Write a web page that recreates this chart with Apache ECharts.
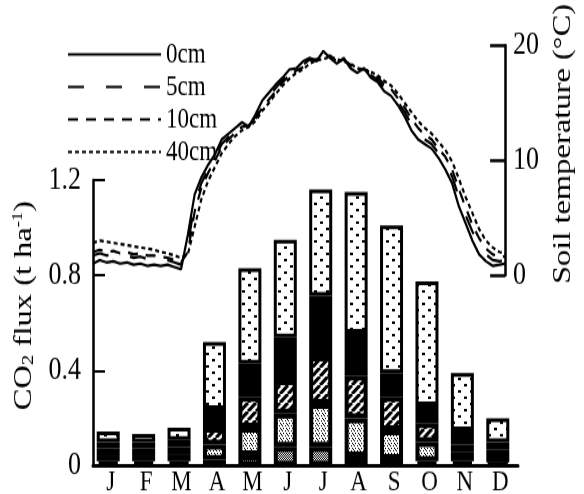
<!DOCTYPE html>
<html>
<head>
<meta charset="utf-8">
<script src="https://cdn.jsdelivr.net/npm/echarts@6/dist/echarts.min.js"></script>
<style>
  html, body { margin: 0; padding: 0; background: #fff; }
  #wrap { width: 584px; height: 494px; overflow: hidden; }
  /* the scanned figure is stretched vertically, so draw at 395px and stretch to 494px */
  #box { width: 584px; height: 395px; transform: scaleY(1.2506); transform-origin: 0 0; }
</style>
</head>
<body>
<div id="wrap"><div id="box"></div></div>
<script>
// month categories
var months = ['J', 'F', 'M', 'A', 'M', 'J', 'J', 'A', 'S', 'O', 'N', 'D'];

// CO2 flux components (t ha-1), bottom to top of each bar
var fluxLight = [0.02, 0.02, 0.02, 0.025, 0.045, 0.08, 0.08, 0.04, 0.03, 0.02, 0.02, 0.015];
var fluxDark  = [0.025, 0.025, 0.03, 0.065, 0.115, 0.14, 0.18, 0.16, 0.12, 0.08, 0.04, 0.025];
var fluxHatch = [0.03, 0.03, 0.03, 0.07, 0.13, 0.14, 0.20, 0.18, 0.14, 0.08, 0.03, 0.03];
var fluxBlack = [0.025, 0.025, 0.03, 0.08, 0.14, 0.18, 0.255, 0.18, 0.10, 0.075, 0.06, 0.03];
var fluxDots  = [0.045, 0.035, 0.05, 0.28, 0.40, 0.41, 0.445, 0.59, 0.62, 0.52, 0.24, 0.10];

// day of year for the soil temperature readings
var days = [0, 6, 12, 18, 24, 30, 36, 42, 48, 54, 60, 66, 72, 78, 84, 90, 96, 102, 108, 114,
  120, 126, 132, 138, 144, 150, 156, 162, 168, 174, 180, 186, 192, 198, 204, 210, 216, 222, 228, 234,
  240, 246, 252, 258, 264, 270, 276, 282, 288, 294, 300, 306, 312, 318, 324, 330, 336, 342, 348, 354,
  360, 365];

// soil temperature (°C) at each depth
var temp0 = [1.0, 1.3, 1.1, 1.2, 1.0, 1.1, 0.9, 1.0, 0.8, 0.9, 0.8, 0.9, 0.7, 0.5, 3.5, 7.0, 8.5, 9.6, 10.5, 11.8,
  12.3, 12.8, 13.3, 12.9, 14.0, 15.2, 15.9, 16.6, 17.2, 17.9, 18.0, 18.6, 18.9, 18.6, 19.5, 18.9, 18.4, 18.9, 18.0, 17.6,
  18.0, 17.2, 16.8, 16.0, 15.6, 14.8, 13.8, 12.6, 11.8, 11.4, 11.0, 10.2, 9.2, 8.0, 6.0, 4.5, 3.0, 1.8, 1.2, 0.8,
  0.9, 1.0];
var temp5 = [1.7, 1.9, 1.7, 1.8, 1.6, 1.7, 1.5, 1.6, 1.4, 1.5, 1.3, 1.3, 1.1, 0.9, 2.6, 6.2, 8.0, 9.2, 10.2, 11.4,
  12.0, 12.6, 13.1, 13.0, 13.8, 14.9, 15.6, 16.3, 17.0, 17.6, 17.9, 18.3, 18.8, 18.7, 19.2, 19.0, 18.5, 18.8, 18.2, 17.8,
  18.0, 17.4, 17.0, 16.3, 15.9, 15.1, 14.2, 13.1, 12.3, 11.8, 11.4, 10.6, 9.8, 8.6, 6.8, 5.2, 3.8, 2.6, 1.8, 1.3,
  1.2, 1.3];
var temp10 = [2.0, 2.2, 2.0, 2.1, 1.9, 2.0, 1.8, 1.9, 1.7, 1.7, 1.6, 1.5, 1.3, 1.1, 2.0, 5.5, 7.6, 8.9, 10.0, 11.1,
  11.8, 12.4, 12.9, 13.0, 13.6, 14.6, 15.3, 16.0, 16.8, 17.4, 17.8, 18.1, 18.7, 18.8, 19.0, 19.1, 18.6, 18.7, 18.3, 17.9,
  17.9, 17.6, 17.2, 16.6, 16.2, 15.4, 14.6, 13.6, 12.8, 12.2, 11.8, 11.0, 10.3, 9.2, 7.5, 5.9, 4.4, 3.2, 2.3, 1.8,
  1.6, 1.6];
var temp40 = [2.8, 3.0, 2.9, 2.8, 2.7, 2.6, 2.5, 2.4, 2.3, 2.2, 2.0, 1.9, 1.7, 1.5, 1.8, 4.2, 6.6, 8.2, 9.4, 10.6,
  11.4, 12.1, 12.6, 12.9, 13.4, 14.3, 15.0, 15.8, 16.5, 17.1, 17.6, 17.9, 18.4, 18.7, 18.8, 19.0, 18.8, 18.6, 18.4, 18.0,
  17.9, 17.7, 17.4, 16.9, 16.5, 15.8, 15.0, 14.2, 13.4, 12.8, 12.3, 11.6, 10.9, 9.9, 8.4, 6.8, 5.4, 4.0, 3.0, 2.4,
  2.0, 1.9];

var FONT = 'Liberation Serif';

// 画图案填充
function makePattern(w, h, draw) {
  var c = document.createElement('canvas');
  c.width = w;
  c.height = h;
  var ctx = c.getContext('2d');
  ctx.fillStyle = '#fff';
  ctx.fillRect(0, 0, w, h);
  ctx.fillStyle = '#000';
  ctx.strokeStyle = '#000';
  draw(ctx);
  return { image: c, repeat: 'repeat' };
}

var patLight = makePattern(2, 2, function (ctx) {
  ctx.fillRect(0, 0, 1, 1);
  ctx.fillRect(1, 1, 1, 1);
});
var patDark = makePattern(6, 4, function (ctx) {
  ctx.fillRect(0, 0, 1, 1);
  ctx.fillRect(3, 0, 1, 1);
  ctx.fillRect(1, 2, 1, 1);
  ctx.fillRect(4, 2, 1, 1);
  ctx.fillRect(5, 3, 1, 1);
});
var patHatch = makePattern(8, 7, function (ctx) {
  ctx.lineWidth = 3;
  [-8, 0, 8].forEach(function (x0) {
    ctx.beginPath();
    ctx.moveTo(x0, 7);
    ctx.lineTo(x0 + 8, 0);
    ctx.stroke();
  });
});
var patDots = makePattern(12, 10, function (ctx) {
  ctx.fillRect(2, 2, 3, 2);
  ctx.fillRect(8, 7, 3, 2);
});

function fluxSeries(name, data, fill, border) {
  return {
    name: name,
    type: 'bar',
    stack: 'flux',
    xAxisIndex: 0,
    yAxisIndex: 0,
    barWidth: 23,
    data: data,
    itemStyle: { color: fill, borderColor: '#000', borderWidth: border },
    silent: true
  };
}

function tempSeries(name, temps, dash) {
  return {
    name: name,
    type: 'line',
    xAxisIndex: 1,
    yAxisIndex: 1,
    symbol: 'none',
    showSymbol: false,
    data: days.map(function (d, i) { return [d, temps[i]]; }),
    lineStyle: { color: '#000', width: 2.2, type: dash },
    itemStyle: { color: '#000' },
    silent: true
  };
}

var chart = echarts.init(document.getElementById('box'));
chart.setOption({
  animation: false,
  backgroundColor: '#fff',
  legend: {
    data: ['0cm', '5cm', '10cm', '40cm'],
    orient: 'vertical',
    left: 62,
    top: 27,
    itemWidth: 93,
    itemHeight: 14,
    itemGap: 3,
    itemStyle: { opacity: 0 },
    textStyle: { fontFamily: FONT, fontSize: 23, color: '#000' },
    selectedMode: false
  },
  grid: [
    // 柱状图网格固定位置, 不要自动收缩
    { left: 93, width: 425, top: 144, height: 228.6, outerBoundsMode: 'none' },
    { left: 93, right: 66, top: 34.4, bottom: 175.1 }
  ],
  xAxis: [
    {
      type: 'category',
      gridIndex: 0,
      data: months,
      axisLine: { lineStyle: { color: '#000', width: 3 } },
      axisTick: { inside: true, length: 13, lineStyle: { color: '#000', width: 2 } },
      axisLabel: { color: '#000', fontFamily: FONT, fontSize: 23, margin: 2 },
      splitLine: { show: false }
    },
    { type: 'value', gridIndex: 1, min: 0, max: 365, show: false }
  ],
  yAxis: [
    {
      type: 'value',
      gridIndex: 0,
      min: 0,
      max: 1.2,
      interval: 0.4,
      name: 'CO{sub|2} flux (t ha{sup|-1})',
      nameLocation: 'middle',
      nameRotate: 90,
      nameGap: 56,
      nameTextStyle: {
        color: '#000', fontFamily: FONT, fontSize: 26, padding: [0, 0, 0, 28],
        rich: {
          sub: { fontFamily: FONT, fontSize: 17, color: '#000', verticalAlign: 'bottom', padding: [8, 0, 0, 0] },
          sup: { fontFamily: FONT, fontSize: 15, color: '#000', verticalAlign: 'top', padding: [0, 0, 9, 0] }
        }
      },
      axisLine: { show: true, onZero: false, lineStyle: { color: '#000', width: 2.5 } },
      axisTick: { show: true, inside: true, length: 12, lineStyle: { color: '#000', width: 2 } },
      axisLabel: { color: '#000', fontFamily: FONT, fontSize: 26, margin: 12 },
      splitLine: { show: false }
    },
    {
      type: 'value',
      gridIndex: 1,
      position: 'right',
      min: 0,
      max: 20,
      interval: 10,
      name: 'Soil temperature (°C)',
      nameLocation: 'middle',
      nameRotate: 90,
      nameGap: 42,
      nameTextStyle: { color: '#000', fontFamily: FONT, fontSize: 26, padding: [0, 0, 0, 26] },
      axisLine: { show: true, onZero: false, lineStyle: { color: '#000', width: 2.5 } },
      axisTick: { show: true, inside: true, length: 15, lineStyle: { color: '#000', width: 2.5 } },
      axisLabel: { color: '#000', fontFamily: FONT, fontSize: 26, margin: 8 },
      splitLine: { show: false }
    }
  ],
  series: [
    fluxSeries('light', fluxLight, patLight, 4),
    fluxSeries('dark', fluxDark, patDark, 4),
    fluxSeries('hatch', fluxHatch, patHatch, 4),
    fluxSeries('black', fluxBlack, '#000', 4),
    fluxSeries('dots', fluxDots, patDots, 3),
    // 占位, 让柱子稍微偏左
    {
      name: 'pad',
      type: 'bar',
      xAxisIndex: 0,
      yAxisIndex: 0,
      barWidth: 2,
      barGap: '13%',
      data: months.map(function () { return 0; }),
      itemStyle: { color: 'transparent' },
      silent: true
    },
    tempSeries('0cm', temp0, 'solid'),
    tempSeries('5cm', temp5, [16, 22]),
    tempSeries('10cm', temp10, [10, 8]),
    tempSeries('40cm', temp40, [4, 3])
  ]
});
</script>
</body>
</html>
